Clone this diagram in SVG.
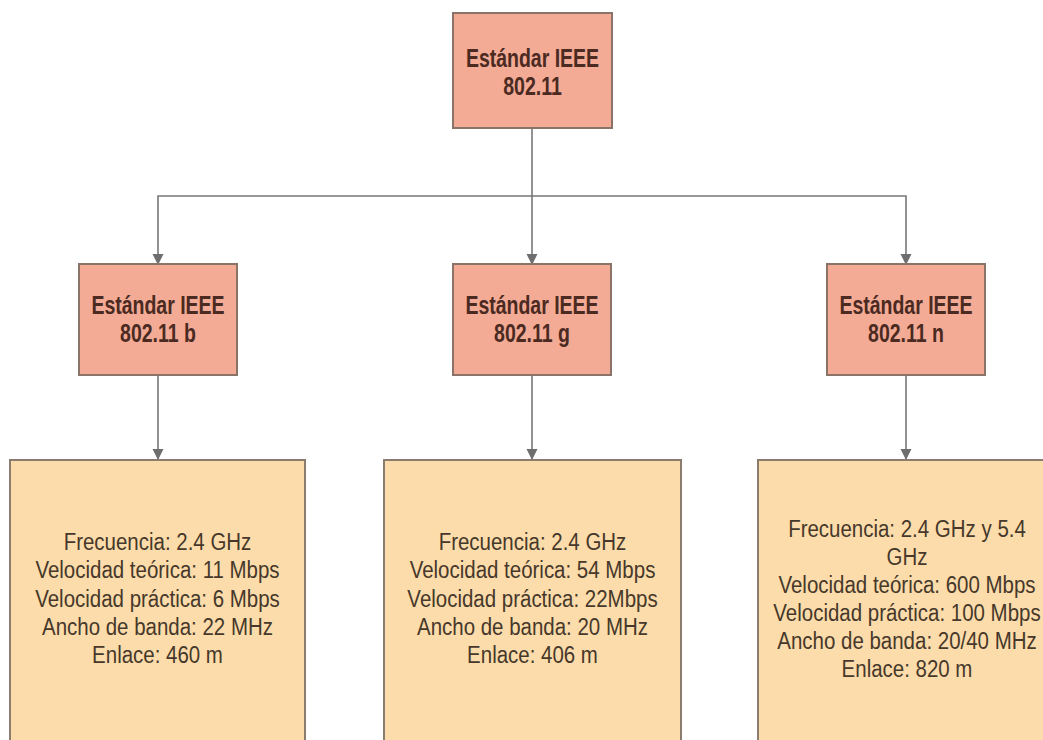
<svg xmlns="http://www.w3.org/2000/svg" width="1043" height="740" viewBox="0 0 1043 740">
  <defs>
    <marker id="arrow" markerUnits="userSpaceOnUse" markerWidth="12" markerHeight="14" refX="10" refY="5.5" orient="auto">
      <path d="M0,0 L11,5.5 L0,11 Z" fill="#6e6e6e"/>
    </marker>
    <style>
      .std rect { fill: #f3ab95; stroke: #8a7369; stroke-width: 2; }
      .spec rect { fill: #fddcab; stroke: #8a7d70; stroke-width: 2; }
      .title { font-family: "Liberation Sans", Arial, sans-serif; font-weight: bold; font-size: 25px; fill: #4b2a22; text-anchor: middle; }
      .body { font-family: "Liberation Sans", Arial, sans-serif; font-size: 23px; fill: #46382a; text-anchor: middle; }
      .wire { fill: none; stroke: #777777; stroke-width: 1.6; }
    </style>
  </defs>

  <rect width="1043" height="740" fill="#ffffff"/>

  <!-- connectors -->
  <g id="connectors">
    <path class="wire" d="M532,128 V196"/>
    <path class="wire" d="M532,196 H158 V264" marker-end="url(#arrow)"/>
    <path class="wire" d="M532,196 V264" marker-end="url(#arrow)"/>
    <path class="wire" d="M532,196 H906 V264" marker-end="url(#arrow)"/>
    <path class="wire" d="M158,375 V459" marker-end="url(#arrow)"/>
    <path class="wire" d="M532,375 V459" marker-end="url(#arrow)"/>
    <path class="wire" d="M906,375 V459" marker-end="url(#arrow)"/>
  </g>

  <!-- root standard -->
  <g id="ieee-80211" class="std">
    <rect x="453" y="13" width="159" height="115"/>
    <g transform="translate(532.5,0) scale(0.78,1)">
      <text class="title" x="0" y="67">Estándar IEEE</text>
      <text class="title" x="0" y="95">802.11</text>
    </g>
  </g>

  <!-- amendments -->
  <g id="ieee-80211b" class="std">
    <rect x="79" y="264" width="158" height="111"/>
    <g transform="translate(158,0) scale(0.78,1)">
      <text class="title" x="0" y="314">Estándar IEEE</text>
      <text class="title" x="0" y="342">802.11 b</text>
    </g>
  </g>

  <g id="ieee-80211g" class="std">
    <rect x="453" y="264" width="158" height="111"/>
    <g transform="translate(532,0) scale(0.78,1)">
      <text class="title" x="0" y="314">Estándar IEEE</text>
      <text class="title" x="0" y="342">802.11 g</text>
    </g>
  </g>

  <g id="ieee-80211n" class="std">
    <rect x="827" y="264" width="158" height="111"/>
    <g transform="translate(906,0) scale(0.78,1)">
      <text class="title" x="0" y="314">Estándar IEEE</text>
      <text class="title" x="0" y="342">802.11 n</text>
    </g>
  </g>

  <!-- specifications -->
  <g id="spec-b" class="spec">
    <rect x="10" y="460" width="295" height="290"/>
    <g transform="translate(157.5,0) scale(0.89,1)">
      <text class="body" x="0" y="550">Frecuencia: 2.4 GHz</text>
      <text class="body" x="0" y="578">Velocidad teórica: 11 Mbps</text>
      <text class="body" x="0" y="607">Velocidad práctica: 6 Mbps</text>
      <text class="body" x="0" y="635">Ancho de banda: 22 MHz</text>
      <text class="body" x="0" y="663">Enlace: 460 m</text>
    </g>
  </g>

  <g id="spec-g" class="spec">
    <rect x="384" y="460" width="297" height="290"/>
    <g transform="translate(532.5,0) scale(0.89,1)">
      <text class="body" x="0" y="550">Frecuencia: 2.4 GHz</text>
      <text class="body" x="0" y="578">Velocidad teórica: 54 Mbps</text>
      <text class="body" x="0" y="607">Velocidad práctica: 22Mbps</text>
      <text class="body" x="0" y="635">Ancho de banda: 20 MHz</text>
      <text class="body" x="0" y="663">Enlace: 406 m</text>
    </g>
  </g>

  <g id="spec-n" class="spec">
    <rect x="758" y="460" width="300" height="290"/>
    <g transform="translate(907,0) scale(0.89,1)">
      <text class="body" x="0" y="537">Frecuencia: 2.4 GHz y 5.4</text>
      <text class="body" x="0" y="565">GHz</text>
      <text class="body" x="0" y="593">Velocidad teórica: 600 Mbps</text>
      <text class="body" x="0" y="621">Velocidad práctica: 100 Mbps</text>
      <text class="body" x="0" y="649">Ancho de banda: 20/40 MHz</text>
      <text class="body" x="0" y="677">Enlace: 820 m</text>
    </g>
  </g>
</svg>
